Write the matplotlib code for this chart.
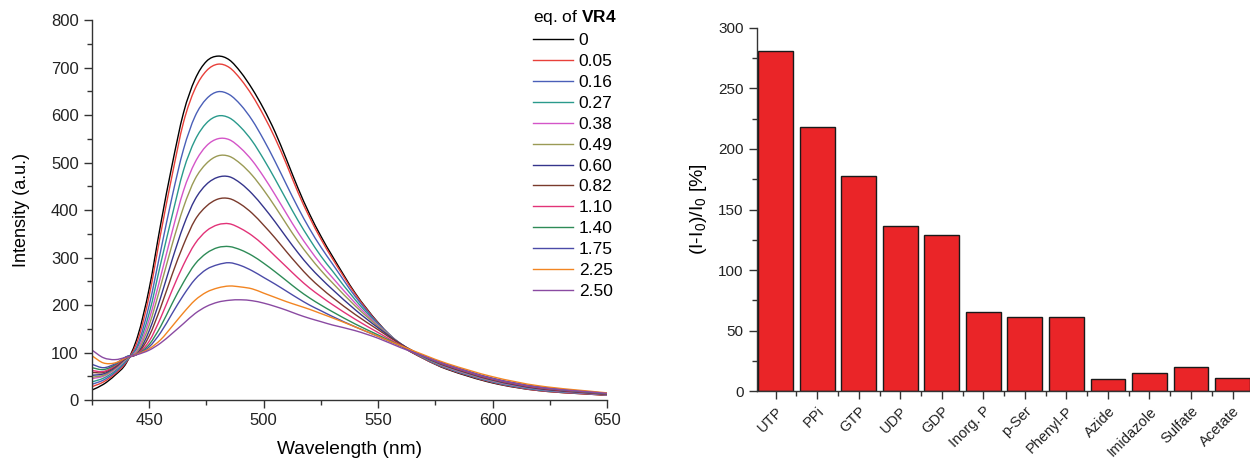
import matplotlib
matplotlib.use("Agg")
import matplotlib.pyplot as plt
from matplotlib.path import Path
from matplotlib.patches import PathPatch
from matplotlib.lines import Line2D
from matplotlib.ticker import MultipleLocator, FixedLocator

plt.rcParams["font.family"] = ["Liberation Sans", "DejaVu Sans"]
plt.rcParams["mathtext.fontset"] = "custom"
plt.rcParams["mathtext.rm"] = "Liberation Sans"
plt.rcParams["mathtext.bf"] = "Liberation Sans:bold"

# emission spectra
wavelength = [425, 430, 435, 440, 445, 450, 455, 460, 465, 470, 475, 480, 485, 490, 495,
              500, 505, 510, 515, 520, 525, 530, 540, 550, 560, 570, 580, 600, 620, 650]

eq_labels = ["0", "0.05", "0.16", "0.27", "0.38", "0.49", "0.60", "0.82",
             "1.10", "1.40", "1.75", "2.25", "2.50"]

eq_colors = ["#000000", "#e8403a", "#4a5fb8", "#2a9a8c", "#d455c8", "#9a9a55", "#35358c",
             "#7a3a2c", "#e23378", "#2e8b57", "#4b4ba8", "#f28522", "#8a4aa2"]

I_000 = [21, 33, 52, 78, 135, 235, 370, 495, 605, 675, 713, 724, 716, 690, 655,
         613, 564, 506, 446, 392, 345, 303, 225, 163, 115, 87, 65, 36, 20, 10]
I_005 = [28, 38, 55, 80, 126, 220, 350, 473, 585, 655, 693, 707, 700, 675, 641,
         599, 551, 496, 437, 385, 339, 298, 223, 162, 116, 87, 66, 37, 20, 10]
I_016 = [33, 42, 58, 82, 117, 200, 314, 428, 528, 597, 634, 649, 643, 621, 589,
         548, 502, 453, 405, 361, 322, 287, 218, 161, 117, 88, 67, 38, 21, 11]
I_027 = [38, 46, 61, 84, 112, 183, 287, 388, 484, 547, 583, 598, 594, 574, 545,
         507, 465, 421, 378, 339, 303, 272, 211, 159, 118, 89, 68, 39, 22, 11]
I_038 = [45, 50, 64, 86, 107, 170, 260, 354, 441, 500, 535, 550, 548, 530, 504,
         470, 432, 392, 353, 318, 286, 258, 204, 157, 118, 90, 69, 40, 23, 11]
I_049 = [48, 52, 66, 87, 103, 158, 240, 327, 406, 465, 498, 514, 513, 497, 473,
         442, 407, 370, 334, 302, 273, 247, 198, 155, 118, 90, 70, 41, 24, 12]
I_060 = [52, 55, 68, 88, 99, 146, 216, 295, 367, 422, 454, 469, 470, 456, 434,
         406, 375, 342, 310, 281, 256, 233, 190, 152, 118, 91, 71, 42, 24, 12]
I_082 = [58, 58, 70, 89, 98, 135, 195, 264, 327, 379, 408, 423, 424, 412, 393,
         368, 341, 312, 284, 258, 236, 216, 180, 148, 117, 92, 72, 43, 25, 12]
I_110 = [62, 60, 72, 90, 98, 124, 173, 231, 285, 329, 356, 369, 371, 361, 346,
         326, 303, 280, 257, 236, 218, 201, 170, 142, 115, 92, 73, 44, 26, 13]
I_140 = [68, 64, 74, 91, 97, 117, 155, 203, 248, 286, 309, 321, 323, 316, 304,
         288, 270, 251, 232, 215, 200, 186, 160, 137, 114, 92, 74, 45, 27, 13]
I_175 = [75, 68, 76, 91, 97, 112, 142, 182, 221, 254, 275, 285, 289, 283, 272,
         258, 244, 229, 214, 200, 188, 176, 154, 134, 113, 93, 75, 46, 28, 14]
I_225 = [93, 78, 78, 89, 97, 108, 127, 155, 184, 210, 227, 236, 240, 238, 234,
         225, 216, 207, 199, 191, 182, 173, 154, 134, 114, 95, 77, 49, 30, 15]
I_250 = [105, 89, 85, 90, 96, 105, 120, 140, 161, 182, 197, 206, 210, 211, 209,
         204, 197, 189, 180, 172, 165, 158, 146, 130, 110, 92, 74, 45, 27, 14]

spectra = [I_000, I_005, I_016, I_027, I_038, I_049, I_060, I_082,
           I_110, I_140, I_175, I_225, I_250]

# selectivity bars
anions = ["UTP", "PPi", "GTP", "UDP", "GDP", "Inorg. P", "p-Ser", "Phenyl-P",
          "Azide", "Imidazole", "Sulfate", "Acetate"]
response = [281, 218, 178, 136, 129, 65, 61, 61, 10, 15, 20, 11]


def smooth_path(xs, ys):
    # connect the measured points with cubic Hermite segments (like a spline connect)
    n = len(xs)
    slopes = []
    for i in range(n):
        a, b = max(i - 1, 0), min(i + 1, n - 1)
        slopes.append((ys[b] - ys[a]) / (xs[b] - xs[a]))
    verts = [(xs[0], ys[0])]
    codes = [Path.MOVETO]
    for i in range(n - 1):
        h = xs[i + 1] - xs[i]
        verts += [(xs[i] + h / 3, ys[i] + slopes[i] * h / 3),
                  (xs[i + 1] - h / 3, ys[i + 1] - slopes[i + 1] * h / 3),
                  (xs[i + 1], ys[i + 1])]
        codes += [Path.CURVE4] * 3
    return Path(verts, codes)


fig = plt.figure(figsize=(12.5, 4.61), dpi=100)

# --- left: titration spectra ---
ax1 = fig.add_axes([0.0736, 0.1323, 0.412, 0.8243])
handles = []
for ys, lab, col in zip(spectra, eq_labels, eq_colors):
    ax1.add_patch(PathPatch(smooth_path(wavelength, ys), fill=False, edgecolor=col, lw=1.0))
    handles.append(Line2D([], [], color=col, lw=1.0, label=lab))
ax1.set_xlim(425, 650)
ax1.set_ylim(0, 800)
ax1.xaxis.set_major_locator(MultipleLocator(50))
ax1.xaxis.set_minor_locator(MultipleLocator(25))
ax1.yaxis.set_major_locator(MultipleLocator(100))
ax1.yaxis.set_minor_locator(MultipleLocator(50))
ax1.set_xlabel("Wavelength (nm)", fontsize=13.8, labelpad=9)
ax1.set_ylabel("Intensity (a.u.)", fontsize=13, labelpad=15)
leg = ax1.legend(handles=handles, title="eq. of $\\mathbf{VR4}$", loc="upper right",
                 bbox_to_anchor=(1.022, 1.035), frameon=False, fontsize=12.5,
                 title_fontsize=12.5, handlelength=2.3, handletextpad=0.35,
                 labelspacing=0.33, borderpad=0.1, borderaxespad=0)
leg._legend_box.align = "left"

# --- right: bar chart ---
ax2 = fig.add_axes([0.6056, 0.1518, 0.3944, 0.7875])
pos = list(range(len(anions)))
ax2.bar(pos, response, width=0.84, color="#ea2528", edgecolor="#1a1a1a", linewidth=1.0)
ax2.set_xlim(-0.45, 11.42)
ax2.set_ylim(0, 300)
ax2.yaxis.set_major_locator(MultipleLocator(50))
ax2.yaxis.set_minor_locator(MultipleLocator(25))
ax2.set_xticks(pos)
ax2.set_xticklabels(anions, rotation=45, ha="right", rotation_mode="anchor")
ax2.xaxis.set_minor_locator(FixedLocator([p + 0.5 for p in pos[:-1]] + [-0.5]))
ax2.set_ylabel("(I-I$_0$)/I$_0$ [%]", fontsize=14, labelpad=7)

for ax in (ax1, ax2):
    for s in ("top", "right"):
        ax.spines[s].set_visible(False)
    for s in ("left", "bottom"):
        ax.spines[s].set_color("#333333")
        ax.spines[s].set_linewidth(1.0)
    ax.tick_params(which="major", direction="out", length=6, width=1.0,
                   color="#333333", labelcolor="#222222")
    ax.tick_params(which="minor", direction="out", length=3.5, width=1.0, color="#333333")
ax1.tick_params(which="major", labelsize=12)
ax2.tick_params(axis="y", which="major", labelsize=11)
ax2.tick_params(axis="x", which="major", labelsize=10.5)

fig.savefig("out.png", dpi=100)
